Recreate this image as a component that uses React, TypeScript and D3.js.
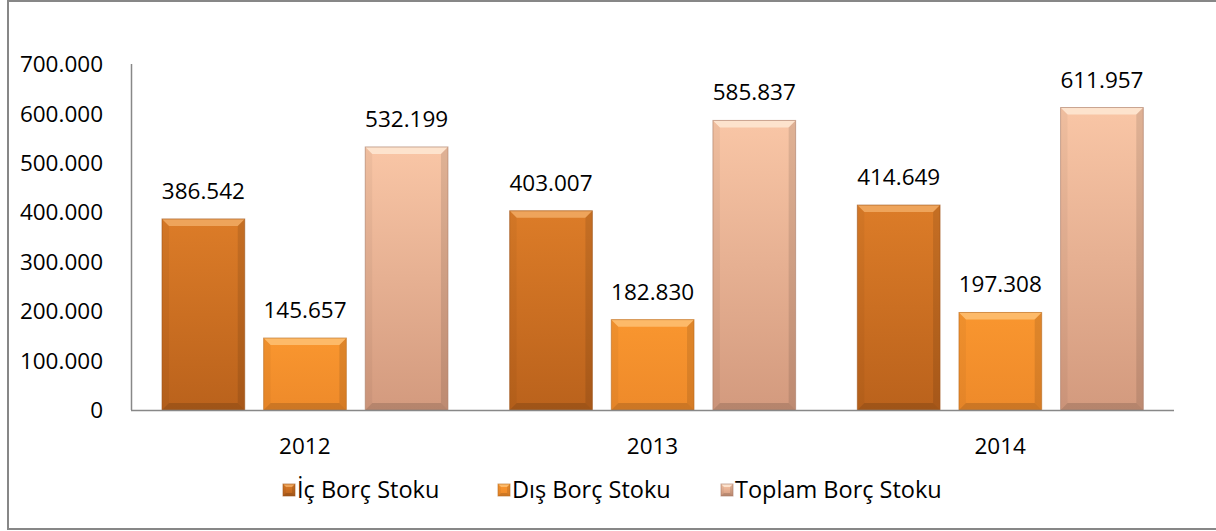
import React from "react";
import * as d3 from "d3";

const years = ["2012", "2013", "2014"];
const seriesNames = ["İç Borç Stoku", "Dış Borç Stoku", "Toplam Borç Stoku"];
const icBorc = [386542, 403007, 414649];
const disBorc = [145657, 182830, 197308];
const toplamBorc = [532199, 585837, 611957];
const yTicks = [0, 100000, 200000, 300000, 400000, 500000, 600000, 700000];

const seriesValues = [icBorc, disBorc, toplamBorc];
const colors = [
  { top: "#DC7C28", bottom: "#BA621C", light: "#F0A860", stroke: "#9C531A" },
  { top: "#F9962F", bottom: "#EE8A2A", light: "#FDBE70", stroke: "#B86A20" },
  { top: "#F9C6A6", bottom: "#D39A7E", light: "#FDE6D2", stroke: "#A87A64" },
];

const W = 1216;
const H = 531;
const FONT = "'Open Sans', Lato, sans-serif";
const FS = 22.5;
const LFS = 23.5;

const fmt = (v: number) => d3.format(",")(v).replace(/,/g, ".");

function BevelBar({ x, y, w, h, i }: { x: number; y: number; w: number; h: number; i: number }) {
  const b = Math.min(7, w / 4, h / 3);
  const c = colors[i];
  return (
    <g>
      <rect x={x} y={y} width={w} height={h} fill={`url(#grad${i})`} />
      <polygon
        points={`${x},${y} ${x + w},${y} ${x + w - b},${y + b} ${x + b},${y + b}`}
        fill={c.light}
        opacity={0.9}
      />
      <polygon
        points={`${x},${y} ${x + b},${y + b} ${x + b},${y + h - b} ${x},${y + h}`}
        fill="#000"
        opacity={0.04}
      />
      <polygon
        points={`${x + w},${y} ${x + w - b},${y + b} ${x + w - b},${y + h - b} ${x + w},${y + h}`}
        fill="#000"
        opacity={0.1}
      />
      <polygon
        points={`${x},${y + h} ${x + b},${y + h - b} ${x + w - b},${y + h - b} ${x + w},${y + h}`}
        fill="#000"
        opacity={0.14}
      />
      <rect x={x} y={y} width={w} height={h} fill="none" stroke={c.stroke} strokeWidth={1} opacity={0.6} />
    </g>
  );
}

export default function App() {
  const x0 = d3.scaleBand<string>().domain(years).range([131, 1174]).padding(0);
  const x1 = d3
    .scaleBand<number>()
    .domain([0, 1, 2])
    .range([31, x0.bandwidth() - 30.7])
    .paddingInner(0.186)
    .paddingOuter(0);
  const y = d3.scaleLinear().domain([0, 700000]).range([410, 64]);

  const legendItems = [
    { x: 297, i: 0 },
    { x: 512, i: 1 },
    { x: 735, i: 2 },
  ];

  return (
    <svg
      width={W}
      height={H}
      style={{ position: "absolute", left: 0, top: 0, background: "#fff" }}
      fontFamily={FONT}
    >
      <defs>
        {colors.map((c, i) => (
          <linearGradient key={i} id={`grad${i}`} x1="0" y1="0" x2="0" y2="1">
            <stop offset="0%" stopColor={c.top} />
            <stop offset="100%" stopColor={c.bottom} />
          </linearGradient>
        ))}
      </defs>
      <rect x={8} y={1} width={1216} height={528} fill="#fff" stroke="#878787" strokeWidth={2} />

      {yTicks.map((t) => (
        <text key={t} x={103} y={y(t)} dy="0.36em" textAnchor="end" fontSize={FS} fill="#000">
          {fmt(t)}
        </text>
      ))}

      {years.map((yr, gi) =>
        seriesValues.map((vals, si) => {
          const bx = (x0(yr) as number) + (x1(si) as number);
          const bw = x1.bandwidth();
          const by = y(vals[gi]);
          const bh = y(0) - by;
          return (
            <g key={`${yr}-${si}`}>
              <BevelBar x={bx} y={by} w={bw} h={bh} i={si} />
              <text x={bx + bw / 2} y={by - 20} textAnchor="middle" fontSize={FS} fill="#000">
                {fmt(vals[gi])}
              </text>
            </g>
          );
        })
      )}

      <line x1={131.5} x2={131.5} y1={64} y2={410} stroke="#888" strokeWidth={1.5} />
      <line x1={131} x2={1174} y1={410.5} y2={410.5} stroke="#888" strokeWidth={1.5} />

      {years.map((yr) => (
        <text
          key={yr}
          x={(x0(yr) as number) + x0.bandwidth() / 2}
          y={446}
          dy="0.36em"
          textAnchor="middle"
          fontSize={FS}
          fill="#000"
        >
          {yr}
        </text>
      ))}

      {legendItems.map((it) => (
        <g key={it.i}>
          <BevelBar x={it.x - 14} y={484} w={12} h={12} i={it.i} />
          <text x={it.x} y={490} dy="0.36em" fontSize={LFS} fill="#000">
            {seriesNames[it.i]}
          </text>
        </g>
      ))}
    </svg>
  );
}
